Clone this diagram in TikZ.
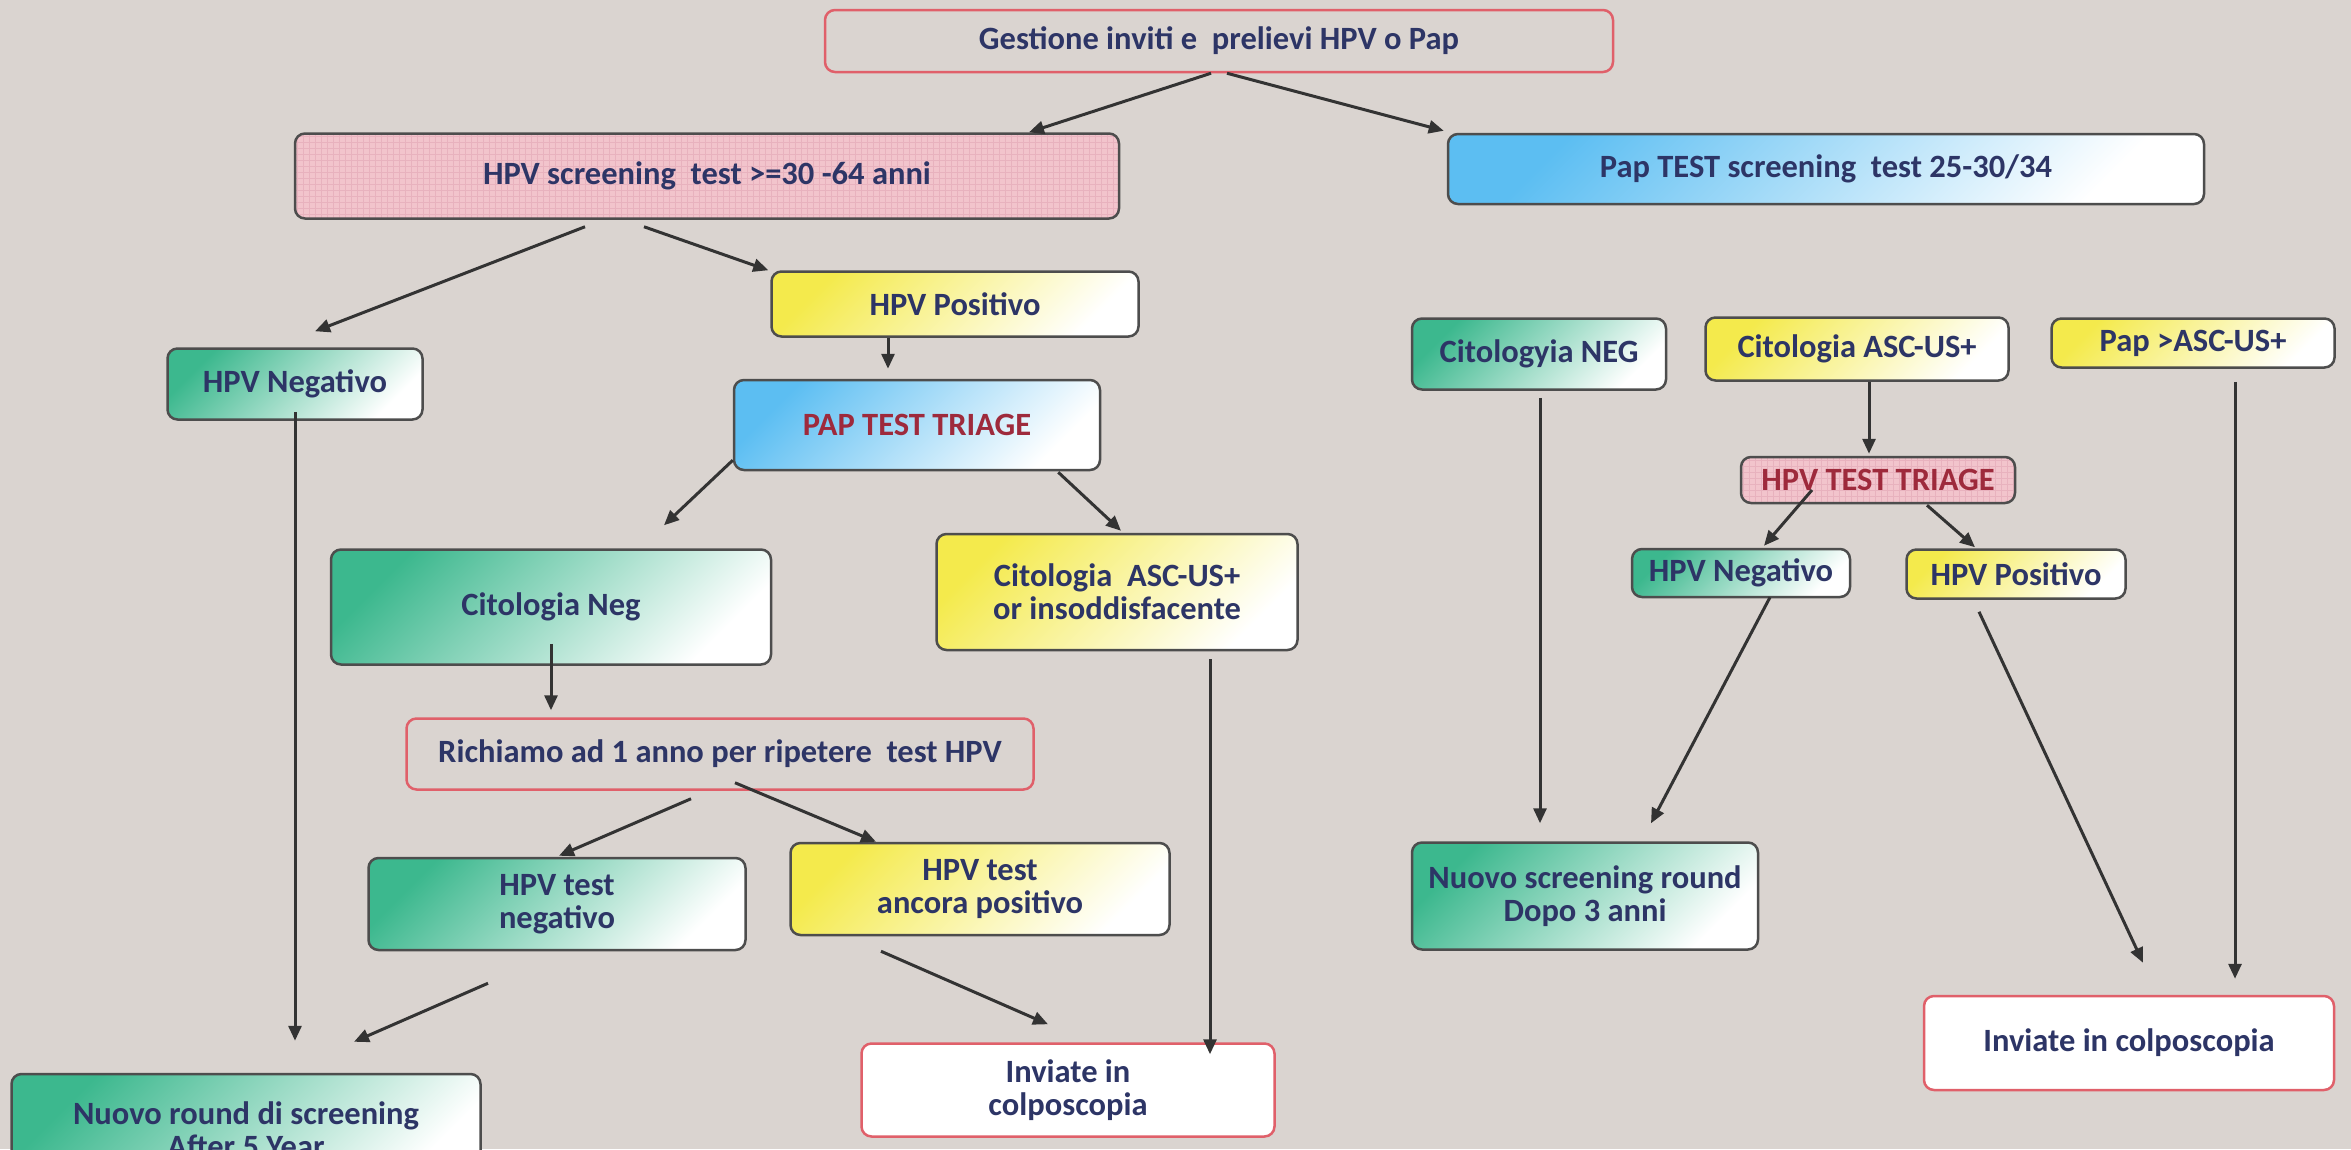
\documentclass[tikz,border=0pt]{standalone}
\usepackage{fontspec}
\setmainfont{Carlito}
\usetikzlibrary{calc}
\usetikzlibrary{arrows.meta}

\definecolor{sfondo}{HTML}{DAD4D0}
\definecolor{verde}{HTML}{3CB88E}
\definecolor{azzurro}{HTML}{5CBEF2}
\definecolor{giallo}{HTML}{F4EA4C}
\definecolor{rosa}{HTML}{F2C4CC}
\definecolor{rosagriglia}{HTML}{E8B2BE}
\definecolor{bordo}{HTML}{4D4D4D}
\definecolor{bordorosso}{HTML}{E0606A}
\definecolor{testo}{HTML}{2D3566}
\definecolor{testorosso}{HTML}{9E2A3C}
\definecolor{freccia}{HTML}{333333}

\tikzset{
  box/.style={rounded corners=10pt, draw=bordo, line width=2.5pt,
    align=center, text=testo, inner sep=0pt,
    font=\fontsize{32.5}{33}\selectfont\bfseries},
  sz/.style 2 args={minimum width=#1pt, minimum height=#2pt},
  greenbox/.style={box, top color=verde, bottom color=white, shading angle=45},
  yellowbox/.style={box, top color=giallo, bottom color=white, shading angle=45},
  bluebox/.style={box, top color=azzurro, bottom color=white, shading angle=45},
  pinkbox/.style={box, fill=rosa,
    path picture={\draw[rosagriglia, line width=0.6pt, step=6pt]
      (path picture bounding box.south west) grid (path picture bounding box.north east);}},
  redbox/.style={box, draw=bordorosso},
  whitebox/.style={box, draw=bordorosso, fill=white},
  arr/.style={draw=freccia, line width=3pt, -{Triangle[length=15pt,width=13pt]}}
}

\begin{document}
\begin{tikzpicture}[x=1pt,y=-1pt]
\useasboundingbox[fill=sfondo] (0,0) rectangle (2351,1149);

% top
\node[redbox, sz={788}{62}] (gest) at (1219,41) {Gestione inviti e~ prelievi HPV o Pap};
\node[pinkbox, sz={824}{85}] (hpvscr) at (707,176) {HPV screening~ test >=30 -64 anni};
\node[bluebox, sz={756}{70}] (papscr) at (1826,169) {Pap TEST screening~ test 25-30/34};

% HPV branch
\node[yellowbox, sz={367}{65}] (hpvpos) at (955,304) {HPV Positivo};
\node[greenbox, sz={255}{71}] (hpvneg) at (295,384) {HPV Negativo};
\node[bluebox, sz={366}{90}, text=testorosso] (paptriage) at (917,425) {PAP TEST TRIAGE};
\node[greenbox, sz={440}{115}] (citneg) at (551,607) {Citologia Neg};
\node[yellowbox, sz={361}{116}] (citasc) at (1117,592) {Citologia~ ASC-US+\\or insoddisfacente};
\node[redbox, sz={627}{71}] (richiamo) at (720,754) {Richiamo ad 1 anno per ripetere~ test HPV};
\node[greenbox, sz={377}{92}] (testneg) at (557,904) {HPV test\\negativo};
\node[yellowbox, sz={379}{92}] (testpos) at (980,889) {HPV test\\ancora positivo};
\node[greenbox, sz={469}{112}] (round5) at (246,1130) {Nuovo round di screening\\After 5 Year};
\node[whitebox, sz={413}{93}] (colpo) at (1068,1090) {Inviate in\\colposcopia};

% Pap branch
\node[greenbox, sz={254}{71}] (citnegR) at (1539,354) {Citologyia NEG};
\node[yellowbox, sz={303}{63}] (citascR) at (1857,349) {Citologia ASC-US+};
\node[yellowbox, sz={283}{49}] (papasc) at (2193,343) {Pap >ASC-US+};
\node[pinkbox, sz={274}{46}, text=testorosso] (hpvtriage) at (1878,480) {HPV TEST TRIAGE};
\node[greenbox, sz={218}{48}] (hpvnegR) at (1741,573) {HPV Negativo};
\node[yellowbox, sz={219}{49}] (hpvposR) at (2016,574) {HPV Positivo};
\node[greenbox, sz={346}{107}] (round3) at (1585,896) {Nuovo screening round\\Dopo 3 anni};
\node[whitebox, sz={410}{94}] (colpoR) at (2129,1043) {Inviate in colposcopia};

% arrows
\draw[arr] ($(gest.south)+(-8,0)$) -- ($(hpvscr.north)+(322,0)$);
\draw[arr] ($(gest.south)+(8,0)$) -- ($(papscr.north west)+(-3,-2)$);
\draw[arr] ($(hpvscr.south)+(-122,7)$) -- ($(hpvneg.north)+(20,-16)$);
\draw[arr] ($(hpvscr.south)+(-63,7)$) -- ($(hpvpos.north west)+(-2,0)$);
\draw[arr] ($(hpvpos.south)+(-67,0)$) -- ($(paptriage.north)+(-29,-10)$);
\draw[arr] ($(paptriage.south west)+(0,-11)$) -- ($(citneg.north)+(113,-23)$);
\draw[arr] ($(paptriage.south east)+(-43,1)$) -- ($(citasc.north)+(4,-2)$);
\draw[arr] ($(hpvneg.south)+(0,-9)$) -- ($(round5.north)+(49,-32)$);
\draw[arr] ($(citneg.south)+(0,-22)$) -- ($(richiamo.north)+(-169,-7)$);
\draw[arr] ($(richiamo.south)+(-29,8)$) -- ($(testneg.north)+(2,-1)$);
\draw[arr] ($(richiamo.south)+(15,-8)$) -- ($(testpos.north)+(-104,0)$);
\draw[arr] ($(testneg.south)+(-69,32)$) -- ($(round5.north)+(108,-31)$);
\draw[arr] ($(testpos.south)+(-99,15)$) -- ($(colpo.north)+(-20,-18)$);
\draw[arr] ($(citasc.south)+(93,8)$) -- ($(colpo.north)+(142,12)$);
\draw[arr] ($(citnegR.south)+(1,7)$) -- ($(round3.north)+(-45,-18)$);
\draw[arr] ($(citascR.south)+(12,0)$) -- ($(hpvtriage.north)+(-9,-2)$);
\draw[arr] ($(hpvtriage.center)+(-66,10)$) -- ($(hpvnegR.north)+(23,-2)$);
\draw[arr] ($(hpvtriage.south)+(49,1)$) -- ($(hpvposR.north)+(-41,-1)$);
\draw[arr] ($(hpvnegR.south)+(29,-1)$) -- ($(round3.north)+(66,-18)$);
\draw[arr] ($(hpvposR.south)+(-37,12)$) -- ($(colpoR.north)+(14,-32)$);
\draw[arr] ($(papasc.south)+(42,13)$) -- ($(colpoR.north)+(106,-16)$);
\end{tikzpicture}
\end{document}
